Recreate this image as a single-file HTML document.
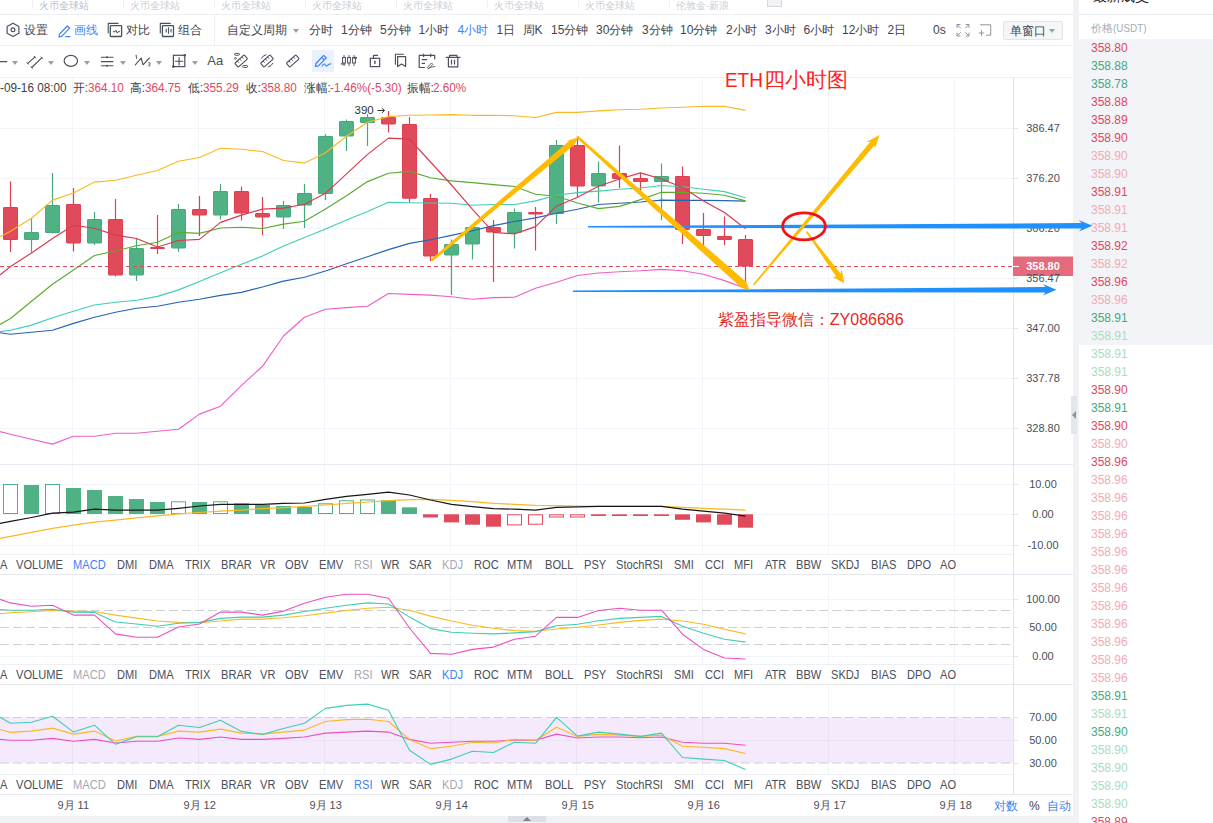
<!DOCTYPE html>
<html lang="zh"><head><meta charset="utf-8"><title>ETH/USDT</title><style>
html,body{margin:0;padding:0}
body{width:1213px;height:823px;overflow:hidden;background:#fff;position:relative;font-family:"Liberation Sans",sans-serif;font-size:12px;color:#3f4450}
.chart{position:absolute;left:0;top:0}
.t{position:absolute;white-space:nowrap}
.tab{font-size:10px;color:#c9cdd5}
.tb{font-size:12px;color:#3f4450}
.blue{color:#3b82f6}
.red{color:#e0475e}
.o{font-size:12px;color:#3a3f4a;transform:scaleX(0.978);transform-origin:left center}
.o.red{color:#e0475e}
.ax{font-size:11px;color:#4a4f5a}
.ind{font-size:12px;color:#4a4f5a;transform:scaleX(0.925);transform-origin:left center}
.ind.blue{color:#3b82f6}
.ind.dis{color:#a3a8b3}
.tb.blue{color:#3b82f6}
.tr{font-size:12px}
.hl{position:absolute;height:1px;background:#eceef2}
.vsep{position:absolute;width:1px;background:#eceef2}
.tri{position:absolute;width:0;height:0;border-left:3px solid transparent;border-right:3px solid transparent;border-top:4px solid #9aa0ac}
</style></head>
<body>
<div style="position:absolute;left:1073px;top:0;width:6px;height:823px;background:#f0f2f5"></div>
<div style="position:absolute;left:0;top:816px;width:1079px;height:7px;background:#f0f2f5"></div>
<div style="position:absolute;left:508px;top:816px;width:38px;height:6px;background:#dcdfe6"></div>
<div style="position:absolute;left:523px;top:817px;width:0;height:0;border-left:4px solid transparent;border-right:4px solid transparent;border-bottom:4px solid #7d828e"></div>
<div style="position:absolute;left:1071px;top:396px;width:6px;height:38px;background:#e3e6ec"></div>
<div style="position:absolute;left:1072px;top:411px;width:0;height:0;border-top:4px solid transparent;border-bottom:4px solid transparent;border-right:4px solid #8d929d"></div>
<div style="position:absolute;left:1079px;top:0;width:134px;height:823px;background:#fff"></div>
<div style="position:absolute;left:1079px;top:39px;width:134px;height:306px;background:#f3f4f7"></div>
<div class="hl" style="top:14px;left:1079px;width:134px"></div>
<div class="t" style="left:1092.5px;top:-13px;font-size:14px;color:#1f2530;height:18px;line-height:18px">最新成交</div>
<div class="t " style="left:1091px;top:21.0px;height:14px;line-height:14px;font-size:11px;color:#a6abb6">价格</div>
<div class="t " style="left:1113px;top:21.0px;height:14px;line-height:14px;font-size:11px;color:#a6abb6;transform:scaleX(0.9);transform-origin:left center">(USDT)</div>
<div class="t tr" style="left:1091px;top:40.5px;height:14px;line-height:14px;color:#e0475e">358.80</div>
<div class="t tr" style="left:1091px;top:58.5px;height:14px;line-height:14px;color:#44a883">358.88</div>
<div class="t tr" style="left:1091px;top:76.5px;height:14px;line-height:14px;color:#44a883">358.78</div>
<div class="t tr" style="left:1091px;top:94.5px;height:14px;line-height:14px;color:#e0475e">358.88</div>
<div class="t tr" style="left:1091px;top:112.5px;height:14px;line-height:14px;color:#e0475e">358.89</div>
<div class="t tr" style="left:1091px;top:130.5px;height:14px;line-height:14px;color:#e0475e">358.90</div>
<div class="t tr" style="left:1091px;top:148.5px;height:14px;line-height:14px;color:#f2aab4">358.90</div>
<div class="t tr" style="left:1091px;top:166.5px;height:14px;line-height:14px;color:#f2aab4">358.90</div>
<div class="t tr" style="left:1091px;top:184.5px;height:14px;line-height:14px;color:#e0475e">358.91</div>
<div class="t tr" style="left:1091px;top:202.5px;height:14px;line-height:14px;color:#f2aab4">358.91</div>
<div class="t tr" style="left:1091px;top:220.5px;height:14px;line-height:14px;color:#f2aab4">358.91</div>
<div class="t tr" style="left:1091px;top:238.5px;height:14px;line-height:14px;color:#e0475e">358.92</div>
<div class="t tr" style="left:1091px;top:256.5px;height:14px;line-height:14px;color:#f2aab4">358.92</div>
<div class="t tr" style="left:1091px;top:274.5px;height:14px;line-height:14px;color:#e0475e">358.96</div>
<div class="t tr" style="left:1091px;top:292.5px;height:14px;line-height:14px;color:#f2aab4">358.96</div>
<div class="t tr" style="left:1091px;top:310.5px;height:14px;line-height:14px;color:#44a883">358.91</div>
<div class="t tr" style="left:1091px;top:328.5px;height:14px;line-height:14px;color:#a9dcc4">358.91</div>
<div class="t tr" style="left:1091px;top:346.5px;height:14px;line-height:14px;color:#a9dcc4">358.91</div>
<div class="t tr" style="left:1091px;top:364.5px;height:14px;line-height:14px;color:#a9dcc4">358.91</div>
<div class="t tr" style="left:1091px;top:382.5px;height:14px;line-height:14px;color:#e0475e">358.90</div>
<div class="t tr" style="left:1091px;top:400.5px;height:14px;line-height:14px;color:#44a883">358.91</div>
<div class="t tr" style="left:1091px;top:418.5px;height:14px;line-height:14px;color:#e0475e">358.90</div>
<div class="t tr" style="left:1091px;top:436.5px;height:14px;line-height:14px;color:#f2aab4">358.90</div>
<div class="t tr" style="left:1091px;top:454.5px;height:14px;line-height:14px;color:#e0475e">358.96</div>
<div class="t tr" style="left:1091px;top:472.5px;height:14px;line-height:14px;color:#f2aab4">358.96</div>
<div class="t tr" style="left:1091px;top:490.5px;height:14px;line-height:14px;color:#f2aab4">358.96</div>
<div class="t tr" style="left:1091px;top:508.5px;height:14px;line-height:14px;color:#f2aab4">358.96</div>
<div class="t tr" style="left:1091px;top:526.5px;height:14px;line-height:14px;color:#f2aab4">358.96</div>
<div class="t tr" style="left:1091px;top:544.5px;height:14px;line-height:14px;color:#f2aab4">358.96</div>
<div class="t tr" style="left:1091px;top:562.5px;height:14px;line-height:14px;color:#f2aab4">358.96</div>
<div class="t tr" style="left:1091px;top:580.5px;height:14px;line-height:14px;color:#f2aab4">358.96</div>
<div class="t tr" style="left:1091px;top:598.5px;height:14px;line-height:14px;color:#f2aab4">358.96</div>
<div class="t tr" style="left:1091px;top:616.5px;height:14px;line-height:14px;color:#f2aab4">358.96</div>
<div class="t tr" style="left:1091px;top:634.5px;height:14px;line-height:14px;color:#f2aab4">358.96</div>
<div class="t tr" style="left:1091px;top:652.5px;height:14px;line-height:14px;color:#f2aab4">358.96</div>
<div class="t tr" style="left:1091px;top:670.5px;height:14px;line-height:14px;color:#f2aab4">358.96</div>
<div class="t tr" style="left:1091px;top:688.5px;height:14px;line-height:14px;color:#44a883">358.91</div>
<div class="t tr" style="left:1091px;top:706.5px;height:14px;line-height:14px;color:#a9dcc4">358.91</div>
<div class="t tr" style="left:1091px;top:724.5px;height:14px;line-height:14px;color:#44a883">358.90</div>
<div class="t tr" style="left:1091px;top:742.5px;height:14px;line-height:14px;color:#a9dcc4">358.90</div>
<div class="t tr" style="left:1091px;top:760.5px;height:14px;line-height:14px;color:#a9dcc4">358.90</div>
<div class="t tr" style="left:1091px;top:778.5px;height:14px;line-height:14px;color:#a9dcc4">358.90</div>
<div class="t tr" style="left:1091px;top:796.5px;height:14px;line-height:14px;color:#a9dcc4">358.90</div>
<div class="t tr" style="left:1091px;top:814.5px;height:14px;line-height:14px;color:#e0475e">358.89</div>
<svg class="chart" width="1213" height="823" viewBox="0 0 1213 823">
<line x1="0" y1="77.5" x2="1073" y2="77.5" stroke="#eef0f4"/>
<line x1="0" y1="128.5" x2="1013" y2="128.5" stroke="#f1f4f8"/>
<line x1="0" y1="178.5" x2="1013" y2="178.5" stroke="#f1f4f8"/>
<line x1="0" y1="228.5" x2="1013" y2="228.5" stroke="#f1f4f8"/>
<line x1="0" y1="278.5" x2="1013" y2="278.5" stroke="#f1f4f8"/>
<line x1="0" y1="328.5" x2="1013" y2="328.5" stroke="#f1f4f8"/>
<line x1="0" y1="378.5" x2="1013" y2="378.5" stroke="#f1f4f8"/>
<line x1="0" y1="428.5" x2="1013" y2="428.5" stroke="#f1f4f8"/>
<line x1="0" y1="484.5" x2="1013" y2="484.5" stroke="#f1f4f8"/>
<line x1="0" y1="514.5" x2="1013" y2="514.5" stroke="#f1f4f8"/>
<line x1="0" y1="545.5" x2="1013" y2="545.5" stroke="#f1f4f8"/>
<line x1="0" y1="599.5" x2="1013" y2="599.5" stroke="#f1f4f8"/>
<line x1="0" y1="656.5" x2="1013" y2="656.5" stroke="#f1f4f8"/>
<line x1="0" y1="740.5" x2="1013" y2="740.5" stroke="#f1f4f8"/>
<line x1="72.5" y1="78" x2="72.5" y2="464" stroke="#f1f4f8"/>
<line x1="72.5" y1="465" x2="72.5" y2="554" stroke="#f1f4f8"/>
<line x1="72.5" y1="575" x2="72.5" y2="664" stroke="#f1f4f8"/>
<line x1="72.5" y1="685" x2="72.5" y2="774" stroke="#f1f4f8"/>
<line x1="198.5" y1="78" x2="198.5" y2="464" stroke="#f1f4f8"/>
<line x1="198.5" y1="465" x2="198.5" y2="554" stroke="#f1f4f8"/>
<line x1="198.5" y1="575" x2="198.5" y2="664" stroke="#f1f4f8"/>
<line x1="198.5" y1="685" x2="198.5" y2="774" stroke="#f1f4f8"/>
<line x1="324.5" y1="78" x2="324.5" y2="464" stroke="#f1f4f8"/>
<line x1="324.5" y1="465" x2="324.5" y2="554" stroke="#f1f4f8"/>
<line x1="324.5" y1="575" x2="324.5" y2="664" stroke="#f1f4f8"/>
<line x1="324.5" y1="685" x2="324.5" y2="774" stroke="#f1f4f8"/>
<line x1="450.5" y1="78" x2="450.5" y2="464" stroke="#f1f4f8"/>
<line x1="450.5" y1="465" x2="450.5" y2="554" stroke="#f1f4f8"/>
<line x1="450.5" y1="575" x2="450.5" y2="664" stroke="#f1f4f8"/>
<line x1="450.5" y1="685" x2="450.5" y2="774" stroke="#f1f4f8"/>
<line x1="576.5" y1="78" x2="576.5" y2="464" stroke="#f1f4f8"/>
<line x1="576.5" y1="465" x2="576.5" y2="554" stroke="#f1f4f8"/>
<line x1="576.5" y1="575" x2="576.5" y2="664" stroke="#f1f4f8"/>
<line x1="576.5" y1="685" x2="576.5" y2="774" stroke="#f1f4f8"/>
<line x1="702.5" y1="78" x2="702.5" y2="464" stroke="#f1f4f8"/>
<line x1="702.5" y1="465" x2="702.5" y2="554" stroke="#f1f4f8"/>
<line x1="702.5" y1="575" x2="702.5" y2="664" stroke="#f1f4f8"/>
<line x1="702.5" y1="685" x2="702.5" y2="774" stroke="#f1f4f8"/>
<line x1="828.5" y1="78" x2="828.5" y2="464" stroke="#f1f4f8"/>
<line x1="828.5" y1="465" x2="828.5" y2="554" stroke="#f1f4f8"/>
<line x1="828.5" y1="575" x2="828.5" y2="664" stroke="#f1f4f8"/>
<line x1="828.5" y1="685" x2="828.5" y2="774" stroke="#f1f4f8"/>
<line x1="954.5" y1="78" x2="954.5" y2="464" stroke="#f1f4f8"/>
<line x1="954.5" y1="465" x2="954.5" y2="554" stroke="#f1f4f8"/>
<line x1="954.5" y1="575" x2="954.5" y2="664" stroke="#f1f4f8"/>
<line x1="954.5" y1="685" x2="954.5" y2="774" stroke="#f1f4f8"/>
<line x1="1013" y1="128.5" x2="1018" y2="128.5" stroke="#dfe3ea"/>
<line x1="1013" y1="178.5" x2="1018" y2="178.5" stroke="#dfe3ea"/>
<line x1="1013" y1="228.5" x2="1018" y2="228.5" stroke="#dfe3ea"/>
<line x1="1013" y1="278.5" x2="1018" y2="278.5" stroke="#dfe3ea"/>
<line x1="1013" y1="328.5" x2="1018" y2="328.5" stroke="#dfe3ea"/>
<line x1="1013" y1="378.5" x2="1018" y2="378.5" stroke="#dfe3ea"/>
<line x1="1013" y1="428.5" x2="1018" y2="428.5" stroke="#dfe3ea"/>
<line x1="1013" y1="484.5" x2="1018" y2="484.5" stroke="#dfe3ea"/>
<line x1="1013" y1="514.5" x2="1018" y2="514.5" stroke="#dfe3ea"/>
<line x1="1013" y1="545.5" x2="1018" y2="545.5" stroke="#dfe3ea"/>
<line x1="1013" y1="599.5" x2="1018" y2="599.5" stroke="#dfe3ea"/>
<line x1="1013" y1="627.5" x2="1018" y2="627.5" stroke="#dfe3ea"/>
<line x1="1013" y1="656.5" x2="1018" y2="656.5" stroke="#dfe3ea"/>
<line x1="1013" y1="717.5" x2="1018" y2="717.5" stroke="#dfe3ea"/>
<line x1="1013" y1="740.5" x2="1018" y2="740.5" stroke="#dfe3ea"/>
<line x1="1013" y1="763.5" x2="1018" y2="763.5" stroke="#dfe3ea"/>
<rect x="0" y="717.5" width="1013" height="45.5" fill="#f3e5fb" opacity="0.85"/>
<line x1="0" y1="740.5" x2="1013" y2="740.5" stroke="#ebe3f4"/>
<line x1="72.5" y1="718" x2="72.5" y2="763" stroke="#e9e2f3"/>
<line x1="198.5" y1="718" x2="198.5" y2="763" stroke="#e9e2f3"/>
<line x1="324.5" y1="718" x2="324.5" y2="763" stroke="#e9e2f3"/>
<line x1="450.5" y1="718" x2="450.5" y2="763" stroke="#e9e2f3"/>
<line x1="576.5" y1="718" x2="576.5" y2="763" stroke="#e9e2f3"/>
<line x1="702.5" y1="718" x2="702.5" y2="763" stroke="#e9e2f3"/>
<line x1="828.5" y1="718" x2="828.5" y2="763" stroke="#e9e2f3"/>
<line x1="954.5" y1="718" x2="954.5" y2="763" stroke="#e9e2f3"/>
<line x1="0" y1="610.5" x2="1013" y2="610.5" stroke="#cdcfd5" stroke-dasharray="9,4"/>
<line x1="0" y1="627.5" x2="1013" y2="627.5" stroke="#cdcfd5" stroke-dasharray="9,4"/>
<line x1="0" y1="644.5" x2="1013" y2="644.5" stroke="#cdcfd5" stroke-dasharray="9,4"/>
<line x1="0" y1="717.5" x2="1013" y2="717.5" stroke="#cdcfd5" stroke-dasharray="9,4"/>
<line x1="0" y1="763" x2="1013" y2="763" stroke="#cdcfd5" stroke-dasharray="9,4"/>
<line x1="0" y1="464.5" x2="1073" y2="464.5" stroke="#e6e9ef"/>
<line x1="0" y1="574.5" x2="1073" y2="574.5" stroke="#e6e9ef"/>
<line x1="0" y1="684.5" x2="1073" y2="684.5" stroke="#e6e9ef"/>
<line x1="0" y1="794.5" x2="1073" y2="794.5" stroke="#e6e9ef"/>
<line x1="0" y1="554.5" x2="1013" y2="554.5" stroke="#eceff3"/>
<line x1="0" y1="664.5" x2="1013" y2="664.5" stroke="#eceff3"/>
<line x1="0" y1="774.5" x2="1013" y2="774.5" stroke="#eceff3"/>
<line x1="1013.5" y1="77" x2="1013.5" y2="794" stroke="#e1e5eb"/>
<line x1="10.5" y1="181.5" x2="10.5" y2="252.0" stroke="#dd4151" stroke-width="1.2"/>
<rect x="3.5" y="207.5" width="14" height="32.0" fill="#e04a5a" stroke="#dd4151" stroke-width="1" rx="0.5"/>
<line x1="31.5" y1="218.0" x2="31.5" y2="252.5" stroke="#47aa7c" stroke-width="1.2"/>
<rect x="24.5" y="232.5" width="14" height="7.0" fill="#50b284" stroke="#47aa7c" stroke-width="1" rx="0.5"/>
<line x1="52.5" y1="173.0" x2="52.5" y2="233.5" stroke="#47aa7c" stroke-width="1.2"/>
<rect x="45.5" y="205.5" width="14" height="27.0" fill="#50b284" stroke="#47aa7c" stroke-width="1" rx="0.5"/>
<line x1="73.5" y1="188.0" x2="73.5" y2="251.5" stroke="#dd4151" stroke-width="1.2"/>
<rect x="66.5" y="204.5" width="14" height="38.5" fill="#e04a5a" stroke="#dd4151" stroke-width="1" rx="0.5"/>
<line x1="94.5" y1="212.0" x2="94.5" y2="245.0" stroke="#47aa7c" stroke-width="1.2"/>
<rect x="87.5" y="219.5" width="14" height="23.5" fill="#50b284" stroke="#47aa7c" stroke-width="1" rx="0.5"/>
<line x1="115.5" y1="199.0" x2="115.5" y2="276.5" stroke="#dd4151" stroke-width="1.2"/>
<rect x="108.5" y="219.5" width="14" height="55.5" fill="#e04a5a" stroke="#dd4151" stroke-width="1" rx="0.5"/>
<line x1="136.5" y1="239.0" x2="136.5" y2="281.0" stroke="#47aa7c" stroke-width="1.2"/>
<rect x="129.5" y="248.5" width="14" height="26.5" fill="#50b284" stroke="#47aa7c" stroke-width="1" rx="0.5"/>
<line x1="157.5" y1="215.0" x2="157.5" y2="254.0" stroke="#dd4151" stroke-width="1.2"/>
<rect x="150.5" y="247.5" width="14" height="1.0" fill="#e04a5a" stroke="#dd4151" stroke-width="1" rx="0.5"/>
<line x1="178.5" y1="204.0" x2="178.5" y2="252.0" stroke="#47aa7c" stroke-width="1.2"/>
<rect x="171.5" y="209.5" width="14" height="38.5" fill="#50b284" stroke="#47aa7c" stroke-width="1" rx="0.5"/>
<line x1="199.5" y1="196.0" x2="199.5" y2="236.0" stroke="#dd4151" stroke-width="1.2"/>
<rect x="192.5" y="209.5" width="14" height="5.5" fill="#e04a5a" stroke="#dd4151" stroke-width="1" rx="0.5"/>
<line x1="220.5" y1="184.0" x2="220.5" y2="219.5" stroke="#47aa7c" stroke-width="1.2"/>
<rect x="213.5" y="191.5" width="14" height="23.5" fill="#50b284" stroke="#47aa7c" stroke-width="1" rx="0.5"/>
<line x1="241.5" y1="186.5" x2="241.5" y2="220.5" stroke="#dd4151" stroke-width="1.2"/>
<rect x="234.5" y="191.5" width="14" height="21.5" fill="#e04a5a" stroke="#dd4151" stroke-width="1" rx="0.5"/>
<line x1="262.5" y1="197.0" x2="262.5" y2="235.0" stroke="#dd4151" stroke-width="1.2"/>
<rect x="255.5" y="213.5" width="14" height="3.5" fill="#e04a5a" stroke="#dd4151" stroke-width="1" rx="0.5"/>
<line x1="283.5" y1="201.0" x2="283.5" y2="229.0" stroke="#47aa7c" stroke-width="1.2"/>
<rect x="276.5" y="205.5" width="14" height="11.5" fill="#50b284" stroke="#47aa7c" stroke-width="1" rx="0.5"/>
<line x1="304.5" y1="184.0" x2="304.5" y2="228.0" stroke="#47aa7c" stroke-width="1.2"/>
<rect x="297.5" y="193.5" width="14" height="11.5" fill="#50b284" stroke="#47aa7c" stroke-width="1" rx="0.5"/>
<line x1="325.5" y1="134.0" x2="325.5" y2="200.0" stroke="#47aa7c" stroke-width="1.2"/>
<rect x="318.5" y="136.5" width="14" height="57.0" fill="#50b284" stroke="#47aa7c" stroke-width="1" rx="0.5"/>
<line x1="346.5" y1="119.5" x2="346.5" y2="151.0" stroke="#47aa7c" stroke-width="1.2"/>
<rect x="339.5" y="121.5" width="14" height="14.5" fill="#50b284" stroke="#47aa7c" stroke-width="1" rx="0.5"/>
<line x1="367.5" y1="114.0" x2="367.5" y2="146.0" stroke="#47aa7c" stroke-width="1.2"/>
<rect x="360.5" y="117.5" width="14" height="5.0" fill="#50b284" stroke="#47aa7c" stroke-width="1" rx="0.5"/>
<line x1="388.5" y1="111.0" x2="388.5" y2="132.5" stroke="#dd4151" stroke-width="1.2"/>
<rect x="381.5" y="117.5" width="14" height="6.5" fill="#e04a5a" stroke="#dd4151" stroke-width="1" rx="0.5"/>
<line x1="409.5" y1="117.0" x2="409.5" y2="202.5" stroke="#dd4151" stroke-width="1.2"/>
<rect x="402.5" y="124.5" width="14" height="73.7" fill="#e04a5a" stroke="#dd4151" stroke-width="1" rx="0.5"/>
<line x1="430.5" y1="194.0" x2="430.5" y2="261.0" stroke="#dd4151" stroke-width="1.2"/>
<rect x="423.5" y="198.5" width="14" height="57.5" fill="#e04a5a" stroke="#dd4151" stroke-width="1" rx="0.5"/>
<line x1="451.5" y1="239.5" x2="451.5" y2="295.0" stroke="#47aa7c" stroke-width="1.2"/>
<rect x="444.5" y="244.5" width="14" height="10.5" fill="#50b284" stroke="#47aa7c" stroke-width="1" rx="0.5"/>
<line x1="472.5" y1="227.0" x2="472.5" y2="259.5" stroke="#47aa7c" stroke-width="1.2"/>
<rect x="465.5" y="227.5" width="14" height="16.5" fill="#50b284" stroke="#47aa7c" stroke-width="1" rx="0.5"/>
<line x1="493.5" y1="220.0" x2="493.5" y2="282.0" stroke="#dd4151" stroke-width="1.2"/>
<rect x="486.5" y="227.5" width="14" height="4.5" fill="#e04a5a" stroke="#dd4151" stroke-width="1" rx="0.5"/>
<line x1="514.5" y1="208.5" x2="514.5" y2="248.5" stroke="#47aa7c" stroke-width="1.2"/>
<rect x="507.5" y="212.5" width="14" height="20.0" fill="#50b284" stroke="#47aa7c" stroke-width="1" rx="0.5"/>
<line x1="535.5" y1="207.0" x2="535.5" y2="250.5" stroke="#dd4151" stroke-width="1.2"/>
<rect x="528.5" y="212.5" width="14" height="1.5" fill="#e04a5a" stroke="#dd4151" stroke-width="1" rx="0.5"/>
<line x1="556.5" y1="140.0" x2="556.5" y2="224.0" stroke="#47aa7c" stroke-width="1.2"/>
<rect x="549.5" y="145.5" width="14" height="68.0" fill="#50b284" stroke="#47aa7c" stroke-width="1" rx="0.5"/>
<line x1="577.5" y1="136.5" x2="577.5" y2="197.0" stroke="#dd4151" stroke-width="1.2"/>
<rect x="570.5" y="145.5" width="14" height="40.5" fill="#e04a5a" stroke="#dd4151" stroke-width="1" rx="0.5"/>
<line x1="598.5" y1="161.5" x2="598.5" y2="202.5" stroke="#47aa7c" stroke-width="1.2"/>
<rect x="591.5" y="173.5" width="14" height="12.5" fill="#50b284" stroke="#47aa7c" stroke-width="1" rx="0.5"/>
<line x1="619.5" y1="145.5" x2="619.5" y2="188.0" stroke="#dd4151" stroke-width="1.2"/>
<rect x="612.5" y="173.5" width="14" height="5.0" fill="#e04a5a" stroke="#dd4151" stroke-width="1" rx="0.5"/>
<line x1="640.5" y1="173.0" x2="640.5" y2="191.0" stroke="#dd4151" stroke-width="1.2"/>
<rect x="633.5" y="178.5" width="14" height="3.0" fill="#e04a5a" stroke="#dd4151" stroke-width="1" rx="0.5"/>
<line x1="661.5" y1="163.5" x2="661.5" y2="220.0" stroke="#47aa7c" stroke-width="1.2"/>
<rect x="654.5" y="176.5" width="14" height="5.0" fill="#50b284" stroke="#47aa7c" stroke-width="1" rx="0.5"/>
<line x1="682.5" y1="166.5" x2="682.5" y2="244.0" stroke="#dd4151" stroke-width="1.2"/>
<rect x="675.5" y="176.5" width="14" height="53.0" fill="#e04a5a" stroke="#dd4151" stroke-width="1" rx="0.5"/>
<line x1="703.5" y1="213.0" x2="703.5" y2="246.0" stroke="#dd4151" stroke-width="1.2"/>
<rect x="696.5" y="229.5" width="14" height="6.0" fill="#e04a5a" stroke="#dd4151" stroke-width="1" rx="0.5"/>
<line x1="724.5" y1="216.5" x2="724.5" y2="245.0" stroke="#dd4151" stroke-width="1.2"/>
<rect x="717.5" y="236.5" width="14" height="3.0" fill="#e04a5a" stroke="#dd4151" stroke-width="1" rx="0.5"/>
<line x1="745.5" y1="235.0" x2="745.5" y2="284.5" stroke="#dd4151" stroke-width="1.2"/>
<rect x="738.5" y="239.5" width="14" height="26.5" fill="#e04a5a" stroke="#dd4151" stroke-width="1" rx="0.5"/>
<polyline points="0.0,431.6 10.5,434.2 31.5,439.2 52.5,444.1 73.5,436.2 94.5,436.2 115.5,433.2 136.5,433.2 157.5,431.3 178.5,429.3 199.5,414.1 220.5,406.2 241.5,385.4 262.5,366.3 283.5,336.0 304.5,317.2 325.5,309.2 346.5,307.6 367.5,306.3 388.5,293.5 409.5,294.4 430.5,295.1 451.5,296.8 472.5,299.3 493.5,297.6 514.5,297.3 535.5,288.3 556.5,282.3 577.5,275.5 598.5,273.0 619.5,271.8 640.5,270.8 661.5,269.4 682.5,270.8 703.5,274.2 724.5,280.6 745.5,288.3" fill="none" stroke="#ee5fc6" stroke-width="1.15" stroke-linejoin="round"/>
<polyline points="0.0,236.8 10.5,231.2 31.5,218.3 52.5,200.1 73.5,193.0 94.5,182.1 115.5,180.2 136.5,175.3 157.5,170.5 178.5,161.2 199.5,157.5 220.5,148.3 241.5,149.3 262.5,151.5 283.5,160.5 304.5,163.1 325.5,152.7 346.5,136.2 367.5,122.3 388.5,116.6 409.5,115.3 430.5,115.0 451.5,114.6 472.5,115.3 493.5,115.3 514.5,115.8 535.5,117.5 556.5,112.4 577.5,112.4 598.5,110.9 619.5,109.7 640.5,109.2 661.5,108.0 682.5,107.3 703.5,106.3 724.5,106.3 745.5,110.4" fill="none" stroke="#fbb824" stroke-width="1.15" stroke-linejoin="round"/>
<polyline points="0.0,332.7 10.5,334.3 31.5,332.3 52.5,330.3 73.5,323.4 94.5,317.2 115.5,312.2 136.5,308.3 157.5,306.3 178.5,302.3 199.5,299.3 220.5,295.4 241.5,292.4 262.5,287.0 283.5,281.1 304.5,277.2 325.5,271.0 346.5,263.8 367.5,256.7 388.5,249.6 409.5,243.4 430.5,239.7 451.5,235.4 472.5,230.7 493.5,225.6 514.5,221.5 535.5,217.9 556.5,213.2 577.5,209.2 598.5,204.5 619.5,203.3 640.5,202.0 661.5,200.1 682.5,200.4 703.5,200.4 724.5,200.6 745.5,201.1" fill="none" stroke="#2363b8" stroke-width="1.15" stroke-linejoin="round"/>
<polyline points="0.0,331.7 10.5,330.3 31.5,325.1 52.5,317.8 73.5,311.2 94.5,305.0 115.5,302.3 136.5,300.3 157.5,296.4 178.5,289.9 199.5,281.5 220.5,272.7 241.5,264.2 262.5,256.0 283.5,246.0 304.5,237.5 325.5,229.0 346.5,220.0 367.5,211.5 388.5,202.2 409.5,202.8 430.5,203.0 451.5,203.3 472.5,205.2 493.5,204.5 514.5,204.5 535.5,200.9 556.5,195.3 577.5,192.6 598.5,191.1 619.5,189.2 640.5,188.0 661.5,185.5 682.5,186.8 703.5,189.2 724.5,191.6 745.5,197.7" fill="none" stroke="#3ecfb2" stroke-width="1.15" stroke-linejoin="round"/>
<polyline points="0.0,324.4 10.5,318.5 31.5,301.3 52.5,284.3 73.5,270.0 94.5,255.5 115.5,251.0 136.5,245.8 157.5,242.2 178.5,232.4 199.5,233.4 220.5,228.0 241.5,227.3 262.5,228.5 283.5,224.1 304.5,221.2 325.5,209.1 346.5,195.7 367.5,181.6 388.5,173.2 409.5,171.4 430.5,177.8 451.5,180.9 472.5,182.6 493.5,184.6 514.5,186.5 535.5,194.3 556.5,196.2 577.5,203.0 598.5,208.6 619.5,206.4 640.5,199.6 661.5,192.3 682.5,192.3 703.5,193.3 724.5,195.3 745.5,200.9" fill="none" stroke="#5aab2e" stroke-width="1.15" stroke-linejoin="round"/>
<polyline points="0.0,275.0 10.5,266.5 31.5,253.0 52.5,238.5 73.5,225.2 94.5,228.3 115.5,235.1 136.5,238.5 157.5,247.0 178.5,240.5 199.5,239.4 220.5,222.4 241.5,215.1 262.5,209.1 283.5,208.1 304.5,204.2 325.5,193.3 346.5,173.8 367.5,154.4 388.5,138.1 409.5,139.1 430.5,162.0 451.5,185.0 472.5,209.4 493.5,232.4 514.5,233.9 535.5,226.6 556.5,206.2 577.5,197.2 598.5,186.3 619.5,179.0 640.5,172.9 661.5,179.0 682.5,187.5 703.5,200.9 724.5,212.5 745.5,228.8" fill="none" stroke="#d93a4e" stroke-width="1.15" stroke-linejoin="round"/>
<line x1="0" y1="266.5" x2="1013" y2="266.5" stroke="#e04a5a" stroke-width="1" stroke-dasharray="4,3"/>
<rect x="3.5" y="484.5" width="14" height="29.0" fill="#fff" stroke="#50b284" stroke-width="1"/>
<rect x="24.0" y="485.0" width="15" height="29.0" fill="#50b284"/>
<rect x="45.5" y="484.5" width="14" height="29.0" fill="#fff" stroke="#50b284" stroke-width="1"/>
<rect x="66.0" y="488.0" width="15" height="26.0" fill="#50b284"/>
<rect x="87.0" y="490.0" width="15" height="24.0" fill="#50b284"/>
<rect x="108.0" y="496.0" width="15" height="18.0" fill="#50b284"/>
<rect x="129.0" y="499.0" width="15" height="15.0" fill="#50b284"/>
<rect x="150.0" y="502.0" width="15" height="12.0" fill="#50b284"/>
<rect x="171.5" y="501.8" width="14" height="11.7" fill="#fff" stroke="#50b284" stroke-width="1"/>
<rect x="192.0" y="502.0" width="15" height="12.0" fill="#50b284"/>
<rect x="213.5" y="501.8" width="14" height="11.7" fill="#fff" stroke="#50b284" stroke-width="1"/>
<rect x="234.0" y="503.3" width="15" height="10.7" fill="#50b284"/>
<rect x="255.0" y="505.0" width="15" height="9.0" fill="#50b284"/>
<rect x="276.0" y="506.0" width="15" height="8.0" fill="#50b284"/>
<rect x="297.0" y="507.0" width="15" height="7.0" fill="#50b284"/>
<rect x="318.5" y="503.8" width="14" height="9.7" fill="#fff" stroke="#50b284" stroke-width="1"/>
<rect x="339.5" y="500.8" width="14" height="12.7" fill="#fff" stroke="#50b284" stroke-width="1"/>
<rect x="360.5" y="499.9" width="14" height="13.6" fill="#fff" stroke="#50b284" stroke-width="1"/>
<rect x="381.0" y="500.3" width="15" height="13.7" fill="#50b284"/>
<rect x="402.0" y="507.3" width="15" height="6.7" fill="#50b284"/>
<rect x="423.0" y="514.3" width="15" height="3.2" fill="#e04a5a"/>
<rect x="444.0" y="514.3" width="15" height="8.1" fill="#e04a5a"/>
<rect x="465.0" y="514.3" width="15" height="10.4" fill="#e04a5a"/>
<rect x="486.0" y="514.3" width="15" height="12.4" fill="#e04a5a"/>
<rect x="507.5" y="514.8" width="14" height="10.1" fill="#fff" stroke="#e04a5a" stroke-width="1"/>
<rect x="528.5" y="514.8" width="14" height="9.4" fill="#fff" stroke="#e04a5a" stroke-width="1"/>
<rect x="549.5" y="514.8" width="14" height="2.2" fill="#fff" stroke="#e04a5a" stroke-width="1"/>
<rect x="570.5" y="514.8" width="14" height="2.2" fill="#fff" stroke="#e04a5a" stroke-width="1"/>
<rect x="591.0" y="514.3" width="15" height="1.7" fill="#e04a5a"/>
<rect x="612.0" y="514.3" width="15" height="1.7" fill="#e04a5a"/>
<rect x="633.0" y="514.3" width="15" height="1.7" fill="#e04a5a"/>
<rect x="654.0" y="514.3" width="15" height="1.7" fill="#e04a5a"/>
<rect x="675.0" y="514.3" width="15" height="5.5" fill="#e04a5a"/>
<rect x="696.0" y="514.3" width="15" height="8.1" fill="#e04a5a"/>
<rect x="717.0" y="514.3" width="15" height="10.4" fill="#e04a5a"/>
<rect x="738.0" y="514.3" width="15" height="13.4" fill="#e04a5a"/>
<polyline points="0.0,538.3 10.5,536.3 31.5,532.3 52.5,528.4 73.5,525.1 94.5,522.1 115.5,520.1 136.5,517.8 157.5,515.8 178.5,513.9 199.5,512.5 220.5,511.2 241.5,510.2 262.5,508.6 283.5,507.6 304.5,506.3 325.5,505.0 346.5,503.3 367.5,502.0 388.5,500.7 409.5,499.7 430.5,499.4 451.5,500.3 472.5,501.7 493.5,503.3 514.5,504.3 535.5,505.3 556.5,505.6 577.5,506.0 598.5,506.3 619.5,506.3 640.5,506.3 661.5,506.3 682.5,507.3 703.5,508.3 724.5,509.2 745.5,510.2" fill="none" stroke="#fbb824" stroke-width="1.2" stroke-linejoin="round"/>
<polyline points="0.0,523.4 10.5,521.4 31.5,517.5 52.5,513.2 73.5,512.2 94.5,509.2 115.5,510.2 136.5,510.2 157.5,510.2 178.5,508.3 199.5,506.0 220.5,504.3 241.5,504.3 262.5,504.3 283.5,503.3 304.5,503.0 325.5,499.4 346.5,496.4 367.5,494.4 388.5,492.1 409.5,495.0 430.5,500.0 451.5,504.3 472.5,506.6 493.5,508.6 514.5,509.2 535.5,510.2 556.5,507.3 577.5,506.9 598.5,506.3 619.5,506.3 640.5,506.3 661.5,506.3 682.5,509.2 703.5,511.2 724.5,513.2 745.5,516.2" fill="none" stroke="#161616" stroke-width="1.2" stroke-linejoin="round"/>
<polyline points="0.0,613.8 10.5,612.8 31.5,611.8 52.5,610.5 73.5,611.1 94.5,611.5 115.5,615.1 136.5,618.1 157.5,621.0 178.5,622.4 199.5,622.7 220.5,621.0 241.5,619.1 262.5,619.1 283.5,617.7 304.5,615.8 325.5,613.1 346.5,610.5 367.5,608.2 388.5,607.2 409.5,610.2 430.5,616.1 451.5,621.0 472.5,625.3 493.5,628.3 514.5,630.6 535.5,631.3 556.5,629.0 577.5,627.3 598.5,625.0 619.5,622.4 640.5,620.4 661.5,619.1 682.5,621.0 703.5,624.3 724.5,629.3 745.5,633.9" fill="none" stroke="#fbb824" stroke-width="1.1" stroke-linejoin="round"/>
<polyline points="0.0,609.5 10.5,610.2 31.5,610.2 52.5,609.2 73.5,612.1 94.5,612.5 115.5,622.0 136.5,624.0 157.5,626.3 178.5,623.3 199.5,622.4 220.5,618.4 241.5,617.1 262.5,617.1 283.5,615.1 304.5,611.5 325.5,608.2 346.5,605.2 367.5,602.9 388.5,604.0 409.5,617.1 430.5,628.6 451.5,632.3 472.5,633.2 493.5,633.9 514.5,632.9 535.5,631.6 556.5,625.7 577.5,624.3 598.5,620.7 619.5,618.4 640.5,617.4 661.5,616.4 682.5,626.3 703.5,633.2 724.5,639.2 745.5,642.1" fill="none" stroke="#3ecfb2" stroke-width="1.1" stroke-linejoin="round"/>
<polyline points="0.0,599.3 10.5,602.9 31.5,606.2 52.5,605.2 73.5,615.1 94.5,615.1 115.5,633.9 136.5,637.2 157.5,637.2 178.5,627.0 199.5,624.0 220.5,612.1 241.5,612.1 262.5,615.1 283.5,611.1 304.5,603.2 325.5,597.3 346.5,594.3 367.5,594.3 388.5,598.3 409.5,628.0 430.5,653.4 451.5,654.3 472.5,649.4 493.5,647.1 514.5,639.2 535.5,636.2 556.5,617.4 577.5,617.4 598.5,610.5 619.5,608.2 640.5,610.2 661.5,610.2 682.5,634.2 703.5,649.4 724.5,658.0 745.5,659.0" fill="none" stroke="#ee4fc0" stroke-width="1.1" stroke-linejoin="round"/>
<polyline points="0.0,739.4 10.5,740.3 31.5,740.3 52.5,738.4 73.5,741.3 94.5,739.4 115.5,743.0 136.5,741.3 157.5,741.3 178.5,738.0 199.5,739.4 220.5,737.0 241.5,739.4 262.5,739.4 283.5,738.4 304.5,737.0 325.5,733.1 346.5,732.1 367.5,731.1 388.5,732.1 409.5,739.4 430.5,743.3 451.5,742.3 472.5,741.3 493.5,741.3 514.5,740.0 535.5,740.3 556.5,734.1 577.5,738.0 598.5,737.0 619.5,737.0 640.5,737.7 661.5,737.0 682.5,742.3 703.5,743.3 724.5,743.3 745.5,745.3" fill="none" stroke="#ee4fc0" stroke-width="1.1" stroke-linejoin="round"/>
<polyline points="0.0,729.5 10.5,732.4 31.5,731.1 52.5,728.1 73.5,734.1 94.5,731.1 115.5,741.0 136.5,736.4 157.5,736.4 178.5,731.1 199.5,732.1 220.5,729.1 241.5,733.1 262.5,734.1 283.5,732.1 304.5,730.1 325.5,721.5 346.5,719.6 367.5,719.2 388.5,721.5 409.5,739.4 430.5,748.6 451.5,746.3 472.5,742.3 493.5,743.0 514.5,739.4 535.5,740.3 556.5,727.2 577.5,736.4 598.5,734.4 619.5,735.1 640.5,736.4 661.5,735.1 682.5,746.3 703.5,747.3 724.5,748.6 745.5,753.5" fill="none" stroke="#fbb824" stroke-width="1.1" stroke-linejoin="round"/>
<polyline points="0.0,717.3 10.5,723.2 31.5,722.2 52.5,716.3 73.5,732.1 94.5,725.2 115.5,744.3 136.5,736.7 157.5,736.7 178.5,725.2 199.5,727.5 220.5,720.2 241.5,731.4 262.5,734.4 283.5,728.5 304.5,723.2 325.5,708.4 346.5,705.4 367.5,704.1 388.5,710.3 409.5,750.2 430.5,764.4 451.5,759.1 472.5,751.2 493.5,752.5 514.5,742.3 535.5,743.3 556.5,717.3 577.5,736.1 598.5,732.1 619.5,734.1 640.5,736.4 661.5,733.1 682.5,757.5 703.5,759.1 724.5,760.5 745.5,769.4" fill="none" stroke="#3ecfb2" stroke-width="1.1" stroke-linejoin="round"/>
<rect x="1013" y="256.5" width="60" height="19.5" fill="#e56a7b"/>
<line x1="1013" y1="266.5" x2="1019" y2="266.5" stroke="#fff"/>
<path d="M377.5 110.5H384.5M381.8 108l2.7 2.5-2.7 2.5" stroke="#333" stroke-width="1" fill="none"/>
</svg>
<div class="t tab" style="left:39px;top:-1.0px;height:14px;line-height:14px;color:#b7bcc8">火币全球站</div>
<div class="t tab" style="left:130px;top:-1.0px;height:14px;line-height:14px;">火币全球站</div>
<div class="t tab" style="left:221px;top:-1.0px;height:14px;line-height:14px;">火币全球站</div>
<div class="t tab" style="left:312px;top:-1.0px;height:14px;line-height:14px;">火币全球站</div>
<div class="t tab" style="left:403px;top:-1.0px;height:14px;line-height:14px;">火币全球站</div>
<div class="t tab" style="left:494px;top:-1.0px;height:14px;line-height:14px;">火币全球站</div>
<div class="t tab" style="left:585px;top:-1.0px;height:14px;line-height:14px;">火币全球站</div>
<div class="t tab" style="left:676px;top:-1.0px;height:14px;line-height:14px;">伦敦金-新浪</div>
<div class="vsep" style="left:32px;top:0;height:8px;background:#eff0f3"></div>
<div class="vsep" style="left:123px;top:0;height:8px;background:#eff0f3"></div>
<div class="vsep" style="left:214px;top:0;height:8px;background:#eff0f3"></div>
<div class="vsep" style="left:305px;top:0;height:8px;background:#eff0f3"></div>
<div class="vsep" style="left:396px;top:0;height:8px;background:#eff0f3"></div>
<div class="vsep" style="left:487px;top:0;height:8px;background:#eff0f3"></div>
<div class="vsep" style="left:578px;top:0;height:8px;background:#eff0f3"></div>
<div class="vsep" style="left:669px;top:0;height:8px;background:#eff0f3"></div>
<div style="position:absolute;left:767px;top:-6px;width:13px;height:11px;border:1px solid #d4d7de;background:#f1f2f5"></div>
<div class="hl" style="top:14px;left:0;width:1073px"></div>
<div class="hl" style="top:45px;left:0;width:1073px"></div>
<div class="vsep" style="left:214px;top:15px;height:30px"></div>
<div class="t tb" style="left:24px;top:23.0px;height:14px;line-height:14px;">设置</div>
<div class="t tb blue" style="left:74px;top:23.0px;height:14px;line-height:14px;">画线</div>
<div class="t tb" style="left:125.5px;top:23.0px;height:14px;line-height:14px;">对比</div>
<div class="t tb" style="left:178px;top:23.0px;height:14px;line-height:14px;">组合</div>
<div class="t tb" style="left:227px;top:23.0px;height:14px;line-height:14px;">自定义周期</div>
<div class="tri" style="left:293px;top:28.5px"></div>
<div class="t tb" style="left:309px;top:23.0px;height:14px;line-height:14px;">分时</div>
<div class="t tb" style="left:341px;top:23.0px;height:14px;line-height:14px;">1分钟</div>
<div class="t tb" style="left:380px;top:23.0px;height:14px;line-height:14px;">5分钟</div>
<div class="t tb" style="left:418.5px;top:23.0px;height:14px;line-height:14px;">1小时</div>
<div class="t tb blue" style="left:457.5px;top:23.0px;height:14px;line-height:14px;">4小时</div>
<div class="t tb" style="left:496.5px;top:23.0px;height:14px;line-height:14px;">1日</div>
<div class="t tb" style="left:522.5px;top:23.0px;height:14px;line-height:14px;">周K</div>
<div class="t tb" style="left:551px;top:23.0px;height:14px;line-height:14px;">15分钟</div>
<div class="t tb" style="left:596px;top:23.0px;height:14px;line-height:14px;">30分钟</div>
<div class="t tb" style="left:642px;top:23.0px;height:14px;line-height:14px;">3分钟</div>
<div class="t tb" style="left:680px;top:23.0px;height:14px;line-height:14px;">10分钟</div>
<div class="t tb" style="left:726px;top:23.0px;height:14px;line-height:14px;">2小时</div>
<div class="t tb" style="left:765px;top:23.0px;height:14px;line-height:14px;">3小时</div>
<div class="t tb" style="left:803.5px;top:23.0px;height:14px;line-height:14px;">6小时</div>
<div class="t tb" style="left:842px;top:23.0px;height:14px;line-height:14px;">12小时</div>
<div class="t tb" style="left:887.5px;top:23.0px;height:14px;line-height:14px;">2日</div>
<div class="t tb" style="left:933px;top:23.0px;height:14px;line-height:14px;">0s</div>
<div style="position:absolute;left:1003px;top:21px;width:60px;height:19px;box-sizing:border-box;border:1px solid #e1e4ea;background:#f5f6f8;border-radius:2px"></div>
<div class="t tb" style="left:1009.5px;top:23.5px;height:14px;line-height:14px;">单窗口</div>
<div class="tri" style="left:1048.5px;top:29px"></div>
<div style="position:absolute;left:0;top:46px;width:1013px;height:31px;background:#fff"></div>
<div style="position:absolute;left:312px;top:50px;width:22px;height:22px;background:#e8f1fd"></div>
<div class="tri" style="left:12px;top:60.5px"></div>
<div class="tri" style="left:48px;top:60.5px"></div>
<div class="tri" style="left:84px;top:60.5px"></div>
<div class="tri" style="left:120px;top:60.5px"></div>
<div class="tri" style="left:156px;top:60.5px"></div>
<div class="tri" style="left:192px;top:60.5px"></div>
<div class="t " style="left:207.3px;top:54.0px;height:14px;line-height:14px;font-size:13px;color:#4a505c">Aa</div>
<div class="t o" style="left:0px;top:81.0px;height:14px;line-height:14px;">-09-16 08:00</div>
<div class="t o" style="left:72.5px;top:81.0px;height:14px;line-height:14px;">开:</div>
<div class="t o red" style="left:87.5px;top:81.0px;height:14px;line-height:14px;">364.10</div>
<div class="t o" style="left:130px;top:81.0px;height:14px;line-height:14px;">高:</div>
<div class="t o red" style="left:145px;top:81.0px;height:14px;line-height:14px;">364.75</div>
<div class="t o" style="left:188px;top:81.0px;height:14px;line-height:14px;">低:</div>
<div class="t o red" style="left:202.5px;top:81.0px;height:14px;line-height:14px;">355.29</div>
<div class="t o" style="left:245.5px;top:81.0px;height:14px;line-height:14px;">收:</div>
<div class="t o red" style="left:260.5px;top:81.0px;height:14px;line-height:14px;">358.80</div>
<div class="t o" style="left:303.5px;top:81.0px;height:14px;line-height:14px;">涨幅:</div>
<div class="t o red" style="left:329.5px;top:81.0px;height:14px;line-height:14px;">-1.46%(-5.30)</div>
<div class="t o" style="left:406.5px;top:81.0px;height:14px;line-height:14px;">振幅:</div>
<div class="t o red" style="left:433px;top:81.0px;height:14px;line-height:14px;">2.60%</div>
<div class="t " style="left:354.5px;top:103.0px;height:14px;line-height:14px;font-size:11.5px;color:#333">390</div>
<div class="t " style="left:725px;top:73.0px;height:14px;line-height:14px;font-size:20.4px;color:#ff1e1e;height:24px;line-height:24px;top:68px;transform:scaleX(0.926);transform-origin:left center">ETH</div>
<div class="t " style="left:764px;top:73.0px;height:14px;line-height:14px;font-size:20.7px;color:#ff1e1e;height:24px;line-height:24px;top:68px">四小时图</div>
<div class="t " style="left:717.7px;top:312.5px;height:14px;line-height:14px;font-size:16px;color:#e8281e;height:20px;line-height:20px;top:309.500px">紫盈指导微信：</div>
<div class="t " style="left:829.8px;top:312.5px;height:14px;line-height:14px;font-size:16px;color:#e8281e;height:20px;line-height:20px;top:309.500px">ZY086686</div>
<div class="t ax" style="left:1043px;top:121.0px;height:14px;line-height:14px;transform:translateX(-50%);">386.47</div>
<div class="t ax" style="left:1043px;top:171.0px;height:14px;line-height:14px;transform:translateX(-50%);">376.20</div>
<div class="t ax" style="left:1043px;top:221.0px;height:14px;line-height:14px;transform:translateX(-50%);">366.20</div>
<div class="t ax" style="left:1043px;top:271.0px;height:14px;line-height:14px;transform:translateX(-50%);">356.47</div>
<div class="t ax" style="left:1043px;top:321.0px;height:14px;line-height:14px;transform:translateX(-50%);">347.00</div>
<div class="t ax" style="left:1043px;top:371.0px;height:14px;line-height:14px;transform:translateX(-50%);">337.78</div>
<div class="t ax" style="left:1043px;top:421.0px;height:14px;line-height:14px;transform:translateX(-50%);">328.80</div>
<div class="t ax" style="left:1043px;top:477.0px;height:14px;line-height:14px;transform:translateX(-50%);">10.00</div>
<div class="t ax" style="left:1043px;top:507.0px;height:14px;line-height:14px;transform:translateX(-50%);">0.00</div>
<div class="t ax" style="left:1043px;top:538.0px;height:14px;line-height:14px;transform:translateX(-50%);">-10.00</div>
<div class="t ax" style="left:1043px;top:592.0px;height:14px;line-height:14px;transform:translateX(-50%);">100.00</div>
<div class="t ax" style="left:1043px;top:620.0px;height:14px;line-height:14px;transform:translateX(-50%);">50.00</div>
<div class="t ax" style="left:1043px;top:649.0px;height:14px;line-height:14px;transform:translateX(-50%);">0.00</div>
<div class="t ax" style="left:1043px;top:710.0px;height:14px;line-height:14px;transform:translateX(-50%);">70.00</div>
<div class="t ax" style="left:1043px;top:733.0px;height:14px;line-height:14px;transform:translateX(-50%);">50.00</div>
<div class="t ax" style="left:1043px;top:756.0px;height:14px;line-height:14px;transform:translateX(-50%);">30.00</div>
<div class="t " style="left:1043px;top:258.8px;height:14px;line-height:14px;transform:translateX(-50%);color:#fff;font-weight:bold;font-size:11px">358.80</div>
<div class="t ind" style="left:0px;top:557.5px;height:14px;line-height:14px;">A</div>
<div class="t ind" style="left:16px;top:557.5px;height:14px;line-height:14px;">VOLUME</div>
<div class="t ind blue" style="left:73px;top:557.5px;height:14px;line-height:14px;">MACD</div>
<div class="t ind" style="left:117px;top:557.5px;height:14px;line-height:14px;">DMI</div>
<div class="t ind" style="left:148.5px;top:557.5px;height:14px;line-height:14px;">DMA</div>
<div class="t ind" style="left:185px;top:557.5px;height:14px;line-height:14px;">TRIX</div>
<div class="t ind" style="left:220.5px;top:557.5px;height:14px;line-height:14px;">BRAR</div>
<div class="t ind" style="left:260px;top:557.5px;height:14px;line-height:14px;">VR</div>
<div class="t ind" style="left:285px;top:557.5px;height:14px;line-height:14px;">OBV</div>
<div class="t ind" style="left:318.5px;top:557.5px;height:14px;line-height:14px;">EMV</div>
<div class="t ind dis" style="left:353.5px;top:557.5px;height:14px;line-height:14px;">RSI</div>
<div class="t ind" style="left:381px;top:557.5px;height:14px;line-height:14px;">WR</div>
<div class="t ind" style="left:409px;top:557.5px;height:14px;line-height:14px;">SAR</div>
<div class="t ind dis" style="left:441.5px;top:557.5px;height:14px;line-height:14px;">KDJ</div>
<div class="t ind" style="left:473.5px;top:557.5px;height:14px;line-height:14px;">ROC</div>
<div class="t ind" style="left:507px;top:557.5px;height:14px;line-height:14px;">MTM</div>
<div class="t ind" style="left:545px;top:557.5px;height:14px;line-height:14px;">BOLL</div>
<div class="t ind" style="left:583.5px;top:557.5px;height:14px;line-height:14px;">PSY</div>
<div class="t ind" style="left:615.5px;top:557.5px;height:14px;line-height:14px;">StochRSI</div>
<div class="t ind" style="left:673.5px;top:557.5px;height:14px;line-height:14px;">SMI</div>
<div class="t ind" style="left:704.5px;top:557.5px;height:14px;line-height:14px;">CCI</div>
<div class="t ind" style="left:733.5px;top:557.5px;height:14px;line-height:14px;">MFI</div>
<div class="t ind" style="left:764.5px;top:557.5px;height:14px;line-height:14px;">ATR</div>
<div class="t ind" style="left:796px;top:557.5px;height:14px;line-height:14px;">BBW</div>
<div class="t ind" style="left:831px;top:557.5px;height:14px;line-height:14px;">SKDJ</div>
<div class="t ind" style="left:870.5px;top:557.5px;height:14px;line-height:14px;">BIAS</div>
<div class="t ind" style="left:906.5px;top:557.5px;height:14px;line-height:14px;">DPO</div>
<div class="t ind" style="left:940px;top:557.5px;height:14px;line-height:14px;">AO</div>
<div class="t ind" style="left:0px;top:667.5px;height:14px;line-height:14px;">A</div>
<div class="t ind" style="left:16px;top:667.5px;height:14px;line-height:14px;">VOLUME</div>
<div class="t ind dis" style="left:73px;top:667.5px;height:14px;line-height:14px;">MACD</div>
<div class="t ind" style="left:117px;top:667.5px;height:14px;line-height:14px;">DMI</div>
<div class="t ind" style="left:148.5px;top:667.5px;height:14px;line-height:14px;">DMA</div>
<div class="t ind" style="left:185px;top:667.5px;height:14px;line-height:14px;">TRIX</div>
<div class="t ind" style="left:220.5px;top:667.5px;height:14px;line-height:14px;">BRAR</div>
<div class="t ind" style="left:260px;top:667.5px;height:14px;line-height:14px;">VR</div>
<div class="t ind" style="left:285px;top:667.5px;height:14px;line-height:14px;">OBV</div>
<div class="t ind" style="left:318.5px;top:667.5px;height:14px;line-height:14px;">EMV</div>
<div class="t ind dis" style="left:353.5px;top:667.5px;height:14px;line-height:14px;">RSI</div>
<div class="t ind" style="left:381px;top:667.5px;height:14px;line-height:14px;">WR</div>
<div class="t ind" style="left:409px;top:667.5px;height:14px;line-height:14px;">SAR</div>
<div class="t ind blue" style="left:441.5px;top:667.5px;height:14px;line-height:14px;">KDJ</div>
<div class="t ind" style="left:473.5px;top:667.5px;height:14px;line-height:14px;">ROC</div>
<div class="t ind" style="left:507px;top:667.5px;height:14px;line-height:14px;">MTM</div>
<div class="t ind" style="left:545px;top:667.5px;height:14px;line-height:14px;">BOLL</div>
<div class="t ind" style="left:583.5px;top:667.5px;height:14px;line-height:14px;">PSY</div>
<div class="t ind" style="left:615.5px;top:667.5px;height:14px;line-height:14px;">StochRSI</div>
<div class="t ind" style="left:673.5px;top:667.5px;height:14px;line-height:14px;">SMI</div>
<div class="t ind" style="left:704.5px;top:667.5px;height:14px;line-height:14px;">CCI</div>
<div class="t ind" style="left:733.5px;top:667.5px;height:14px;line-height:14px;">MFI</div>
<div class="t ind" style="left:764.5px;top:667.5px;height:14px;line-height:14px;">ATR</div>
<div class="t ind" style="left:796px;top:667.5px;height:14px;line-height:14px;">BBW</div>
<div class="t ind" style="left:831px;top:667.5px;height:14px;line-height:14px;">SKDJ</div>
<div class="t ind" style="left:870.5px;top:667.5px;height:14px;line-height:14px;">BIAS</div>
<div class="t ind" style="left:906.5px;top:667.5px;height:14px;line-height:14px;">DPO</div>
<div class="t ind" style="left:940px;top:667.5px;height:14px;line-height:14px;">AO</div>
<div class="t ind" style="left:0px;top:777.5px;height:14px;line-height:14px;">A</div>
<div class="t ind" style="left:16px;top:777.5px;height:14px;line-height:14px;">VOLUME</div>
<div class="t ind dis" style="left:73px;top:777.5px;height:14px;line-height:14px;">MACD</div>
<div class="t ind" style="left:117px;top:777.5px;height:14px;line-height:14px;">DMI</div>
<div class="t ind" style="left:148.5px;top:777.5px;height:14px;line-height:14px;">DMA</div>
<div class="t ind" style="left:185px;top:777.5px;height:14px;line-height:14px;">TRIX</div>
<div class="t ind" style="left:220.5px;top:777.5px;height:14px;line-height:14px;">BRAR</div>
<div class="t ind" style="left:260px;top:777.5px;height:14px;line-height:14px;">VR</div>
<div class="t ind" style="left:285px;top:777.5px;height:14px;line-height:14px;">OBV</div>
<div class="t ind" style="left:318.5px;top:777.5px;height:14px;line-height:14px;">EMV</div>
<div class="t ind blue" style="left:353.5px;top:777.5px;height:14px;line-height:14px;">RSI</div>
<div class="t ind" style="left:381px;top:777.5px;height:14px;line-height:14px;">WR</div>
<div class="t ind" style="left:409px;top:777.5px;height:14px;line-height:14px;">SAR</div>
<div class="t ind dis" style="left:441.5px;top:777.5px;height:14px;line-height:14px;">KDJ</div>
<div class="t ind" style="left:473.5px;top:777.5px;height:14px;line-height:14px;">ROC</div>
<div class="t ind" style="left:507px;top:777.5px;height:14px;line-height:14px;">MTM</div>
<div class="t ind" style="left:545px;top:777.5px;height:14px;line-height:14px;">BOLL</div>
<div class="t ind" style="left:583.5px;top:777.5px;height:14px;line-height:14px;">PSY</div>
<div class="t ind" style="left:615.5px;top:777.5px;height:14px;line-height:14px;">StochRSI</div>
<div class="t ind" style="left:673.5px;top:777.5px;height:14px;line-height:14px;">SMI</div>
<div class="t ind" style="left:704.5px;top:777.5px;height:14px;line-height:14px;">CCI</div>
<div class="t ind" style="left:733.5px;top:777.5px;height:14px;line-height:14px;">MFI</div>
<div class="t ind" style="left:764.5px;top:777.5px;height:14px;line-height:14px;">ATR</div>
<div class="t ind" style="left:796px;top:777.5px;height:14px;line-height:14px;">BBW</div>
<div class="t ind" style="left:831px;top:777.5px;height:14px;line-height:14px;">SKDJ</div>
<div class="t ind" style="left:870.5px;top:777.5px;height:14px;line-height:14px;">BIAS</div>
<div class="t ind" style="left:906.5px;top:777.5px;height:14px;line-height:14px;">DPO</div>
<div class="t ind" style="left:940px;top:777.5px;height:14px;line-height:14px;">AO</div>
<div class="t ax" style="left:57.4px;top:797.5px;height:14px;line-height:14px;">9</div>
<div class="t ax" style="left:63.6px;top:797.5px;height:14px;line-height:14px;">月</div>
<div class="t ax" style="left:77.6px;top:797.5px;height:14px;line-height:14px;">11</div>
<div class="t ax" style="left:183.4px;top:797.5px;height:14px;line-height:14px;">9</div>
<div class="t ax" style="left:189.6px;top:797.5px;height:14px;line-height:14px;">月</div>
<div class="t ax" style="left:203.6px;top:797.5px;height:14px;line-height:14px;">12</div>
<div class="t ax" style="left:309.4px;top:797.5px;height:14px;line-height:14px;">9</div>
<div class="t ax" style="left:315.6px;top:797.5px;height:14px;line-height:14px;">月</div>
<div class="t ax" style="left:329.6px;top:797.5px;height:14px;line-height:14px;">13</div>
<div class="t ax" style="left:435.4px;top:797.5px;height:14px;line-height:14px;">9</div>
<div class="t ax" style="left:441.6px;top:797.5px;height:14px;line-height:14px;">月</div>
<div class="t ax" style="left:455.6px;top:797.5px;height:14px;line-height:14px;">14</div>
<div class="t ax" style="left:561.4px;top:797.5px;height:14px;line-height:14px;">9</div>
<div class="t ax" style="left:567.6px;top:797.5px;height:14px;line-height:14px;">月</div>
<div class="t ax" style="left:581.6px;top:797.5px;height:14px;line-height:14px;">15</div>
<div class="t ax" style="left:687.4px;top:797.5px;height:14px;line-height:14px;">9</div>
<div class="t ax" style="left:693.6px;top:797.5px;height:14px;line-height:14px;">月</div>
<div class="t ax" style="left:707.6px;top:797.5px;height:14px;line-height:14px;">16</div>
<div class="t ax" style="left:813.4px;top:797.5px;height:14px;line-height:14px;">9</div>
<div class="t ax" style="left:819.6px;top:797.5px;height:14px;line-height:14px;">月</div>
<div class="t ax" style="left:833.6px;top:797.5px;height:14px;line-height:14px;">17</div>
<div class="t ax" style="left:939.4px;top:797.5px;height:14px;line-height:14px;">9</div>
<div class="t ax" style="left:945.6px;top:797.5px;height:14px;line-height:14px;">月</div>
<div class="t ax" style="left:959.6px;top:797.5px;height:14px;line-height:14px;">18</div>
<div class="t tb blue" style="left:993.5px;top:798.5px;height:14px;line-height:14px;">对数</div>
<div class="t tb" style="left:1029px;top:798.5px;height:14px;line-height:14px;">%</div>
<div class="t tb blue" style="left:1047px;top:798.5px;height:14px;line-height:14px;">自动</div>
<svg class="chart" width="1213" height="823" viewBox="0 0 1213 823">
<path d="M13 23.2 18.9 26.500v6.700L13 36.500 7.100 33.200v-6.700z" stroke="#4a505c" stroke-width="1.2" fill="none" stroke-linecap="round" stroke-linejoin="round" />
<circle cx="13" cy="29.850" r="1.900" stroke="#4a505c" stroke-width="1.200" fill="none"/>
<path d="M59.500 34.200 67.300 26l2.300 2.200-7.800 8.200-2.800.600z" stroke="#3b82f6" stroke-width="1.2" fill="none" stroke-linecap="round" stroke-linejoin="round" />
<path d="M65.800 36.600h4.200" stroke="#3b82f6" stroke-width="1.2" fill="none" stroke-linecap="round" stroke-linejoin="round" />
<path d="M108.200 33V23.400h9.900" stroke="#4a505c" stroke-width="1.1" fill="none" stroke-linecap="round" stroke-linejoin="round" />
<rect x="110.300" y="25.600" width="11.300" height="10.900" rx="0.700" stroke="#4a505c" stroke-width="1.300" fill="none"/>
<path d="M113.300 31.700h1.700l0.900-1.500 1.300 2.800 0.900-1.300h1.600" stroke="#4a505c" stroke-width="1" fill="none" stroke-linecap="round" stroke-linejoin="round" />
<path d="M160.300 33V23.400h10" stroke="#4a505c" stroke-width="1.1" fill="none" stroke-linecap="round" stroke-linejoin="round" />
<rect x="162.400" y="25.600" width="11.100" height="10.900" rx="0.700" stroke="#4a505c" stroke-width="1.300" fill="none"/>
<path d="M166.200 29.200v2.800M168.500 27.800v5.500M171 29.200v2.800" stroke="#4a505c" stroke-width="1.1" fill="none" stroke-linecap="round" stroke-linejoin="round" />
<path d="M957 27.500V24.500h3M966 24.500h3v3M969 33v3h-3M960 36h-3v-3M957.500 25l3 3M968.500 25l-3 3M968.500 35.500l-3-3M957.500 35.500l3-3" stroke="#8d93a0" stroke-width="1" fill="none" stroke-linecap="round" stroke-linejoin="round" />
<path d="M980.300 24.800H990.700V35.200H986.500M979.200 33h4.600M981.500 30.600v4.800" stroke="#8d93a0" stroke-width="1" fill="none" stroke-linecap="round" stroke-linejoin="round" />
<path d="M0 61.600H6.800" stroke="#4a505c" stroke-width="1.2" fill="none" stroke-linecap="round" stroke-linejoin="round" />
<path d="M27.700 63.400 34.900 57.100M31.700 67.500 41.700 57.800" stroke="#4a505c" stroke-width="1.1" fill="none" stroke-linecap="round" stroke-linejoin="round" />
<path d="M27 62.600l1.400 1.600M34.200 56.300l1.400 1.600M31 66.700l1.400 1.600M41 57l1.400 1.600" stroke="#4a505c" stroke-width="1" fill="none" stroke-linecap="round" stroke-linejoin="round" />
<ellipse cx="70.850" cy="60.850" rx="6.700" ry="5.500" stroke="#4a505c" stroke-width="1.200" fill="none"/>
<path d="M101.300 57.300H113M101.300 61.600H113M101.300 65.700H113" stroke="#4a505c" stroke-width="1.1" fill="none" stroke-linecap="round" stroke-linejoin="round" />
<circle cx="107" cy="57.300" r="1" fill="#4a505c"/><circle cx="107" cy="65.700" r="1" fill="#4a505c"/>
<path d="M135.300 64.800 141.200 58 143 64.800 149.400 58" stroke="#4a505c" stroke-width="1.1" fill="none" stroke-linecap="round" stroke-linejoin="round" />
<path d="M135.600 55.800l0.900-0.500v3.300" stroke="#4a505c" stroke-width="0.8" fill="none" stroke-linecap="round" stroke-linejoin="round" />
<path d="M148.200 62.800c0.500-0.600 1.900-0.500 1.900 0.400 0 0.700-0.700 0.900-1.100 0.900 0.500 0 1.300 0.200 1.300 1 0 1-1.700 1.100-2.200 0.400" stroke="#4a505c" stroke-width="0.8" fill="none" stroke-linecap="round" stroke-linejoin="round" />
<rect x="173.400" y="55.300" width="11.400" height="11.300" stroke="#4a505c" stroke-width="1.200" fill="none"/>
<path d="M179.100 57.600v7.400M175.400 61.300h7.400" stroke="#4a505c" stroke-width="1.1" fill="none" stroke-linecap="round" stroke-linejoin="round" />
<circle cx="184.700" cy="55.200" r="1.300" fill="#4a505c"/><circle cx="173.300" cy="66.600" r="1.300" fill="#4a505c"/>
<g transform="rotate(-42 241.3 60.9)" stroke="#4a505c" stroke-width="1.100" fill="none"><rect x="234.8" y="58.3" width="12.600" height="5.200" rx="0.800"/><path d="M238.3 58.3v2.300M241.3 58.3v2.300M244.3 58.3v2.300" stroke-width="0.900"/></g>
<rect x="234.500" y="53.400" width="5" height="1.800" rx="0.900" stroke="#4a505c" stroke-width="1" fill="none"/><rect x="242.600" y="65.500" width="5" height="1.900" rx="0.900" stroke="#4a505c" stroke-width="1" fill="none"/><circle cx="235.500" cy="58.400" r="0.900" stroke="#4a505c" stroke-width="0.900" fill="none"/>
<g transform="rotate(-42 267.1 60.9)" stroke="#4a505c" stroke-width="1.100" fill="none"><rect x="260.6" y="58.3" width="12.600" height="5.200" rx="0.800"/><path d="M264.1 58.3v2.300M267.1 58.3v2.300M270.1 58.3v2.300" stroke-width="0.900"/></g>
<path d="M261.500 58.200A6.300 6.300 0 0 1 266 54.700M272.800 63.300A6.300 6.300 0 0 1 268.300 67" stroke="#4a505c" stroke-width="1" fill="none" stroke-linecap="round" stroke-linejoin="round" />
<g transform="rotate(-42 292.9 60.9)" stroke="#4a505c" stroke-width="1.100" fill="none"><rect x="286.4" y="58.3" width="12.600" height="5.200" rx="0.800"/><path d="M289.9 58.3v2.300M292.9 58.3v2.300M295.9 58.3v2.300" stroke-width="0.900"/></g>
<path d="M315.400 66.400 316 63.500 323.600 55.400 326.300 57.800 318.400 65.800z M321.700 57.400l2.600 2.400" stroke="#3b82f6" stroke-width="1.2" fill="none" stroke-linecap="round" stroke-linejoin="round" />
<path d="M322.200 66.100c1.300-2.300 2.700-2.600 3.100-1.300 0.400 1.400 1.700 1.300 2.600 0.300 0.800-0.900 1.800-1.100 2.900-1.200" stroke="#3b82f6" stroke-width="1.1" fill="none" stroke-linecap="round" stroke-linejoin="round" />
<path d="M344 55.300v10.400" stroke="#4a505c" stroke-width="0.9" fill="none" stroke-linecap="round" stroke-linejoin="round" />
<rect x="342.6" y="57.500" width="2.800" height="5.500" stroke="#4a505c" stroke-width="1" fill="#fff"/>
<path d="M349 55.300v10.400" stroke="#4a505c" stroke-width="0.9" fill="none" stroke-linecap="round" stroke-linejoin="round" />
<rect x="347.6" y="57.500" width="2.800" height="5.500" stroke="#4a505c" stroke-width="1" fill="#fff"/>
<path d="M354 55.300v10.400" stroke="#4a505c" stroke-width="0.9" fill="none" stroke-linecap="round" stroke-linejoin="round" />
<rect x="352.6" y="57.500" width="2.800" height="5.500" stroke="#4a505c" stroke-width="1" fill="#fff"/>
<path d="M345 64.100h-4l1.200-1.200M354 58.200h3l-1.200-1.200" stroke="#4a505c" stroke-width="0.9" fill="none" stroke-linecap="round" stroke-linejoin="round" />
<rect x="370.300" y="58.300" width="9.400" height="8.300" stroke="#4a505c" stroke-width="1.200" fill="none"/>
<path d="M373.500 58.200V55.400h4" stroke="#4a505c" stroke-width="1.2" fill="none" stroke-linecap="round" stroke-linejoin="round" />
<path d="M374.900 61.200v2.200" stroke="#4a505c" stroke-width="1.4" fill="none" stroke-linecap="round" stroke-linejoin="round" />
<path d="M395.400 64.300V54.300h8" stroke="#4a505c" stroke-width="1.1" fill="none" stroke-linecap="round" stroke-linejoin="round" />
<path d="M397.600 56.600h8v10l-4-2.500-4 2.500z" stroke="#4a505c" stroke-width="1.2" fill="none" stroke-linecap="round" stroke-linejoin="round" />
<path d="M434.700 58.900V55.300H419.200V67.500h5.300M423.600 54.200v2.400M430.700 54.200v2.400M422.200 59.600h4.600M422.200 63.400h2.300" stroke="#4a505c" stroke-width="1.2" fill="none" stroke-linecap="round" stroke-linejoin="round" />
<path d="M427.500 67.300l4-4.300 1.400 1.400-4 4.300zM429 67.800c2-1 3.500-0.500 6-1.500" stroke="#4a505c" stroke-width="0.9" fill="none" stroke-linecap="round" stroke-linejoin="round" />
<path d="M446.300 57.300h13.600M449.600 57.300v-2h7.300v2M448.400 57.300v9.500h9.400v-9.500M451.500 60.200v3.900M454.500 60.200v3.900" stroke="#4a505c" stroke-width="1.2" fill="none" stroke-linecap="round" stroke-linejoin="round" />
</svg>
<svg class="chart" width="1213" height="823" viewBox="0 0 1213 823">
<polygon points="588.0,227.5 1081.5,228.6 1078.8,231.6 1092.5,225.8 1078.7,220.1 1081.5,223.1 588.0,226.1" fill="#1e90ff"/>
<polygon points="573.0,291.9 1045.5,292.6 1042.8,295.6 1056.5,289.8 1042.7,284.1 1045.5,287.1 573.0,290.5" fill="#1e90ff"/>
<polygon points="432.3,261.5 573.1,145.7 572.6,148.6 578.0,137.5 566.2,140.9 569.1,140.9 430.7,259.5" fill="#ffbb00"/>
<polygon points="576.7,137.9 741.0,287.5 738.7,287.1 749.5,290.0 745.4,279.6 746.0,281.8 578.3,136.1" fill="#ffbb00"/>
<polygon points="754.1,285.5 874.5,145.2 874.9,149.1 879.5,135.0 866.4,142.0 870.3,141.7 752.9,284.5" fill="#ffbb00"/>
<polygon points="805.9,231.9 836.3,276.7 832.1,276.7 844.3,283.2 841.8,269.6 840.5,273.6 807.1,231.1" fill="#ffbb00"/>
<ellipse cx="804" cy="226.3" rx="21.4" ry="13.5" fill="none" stroke="#f21212" stroke-width="2.8"/>
</svg>
</body></html>
